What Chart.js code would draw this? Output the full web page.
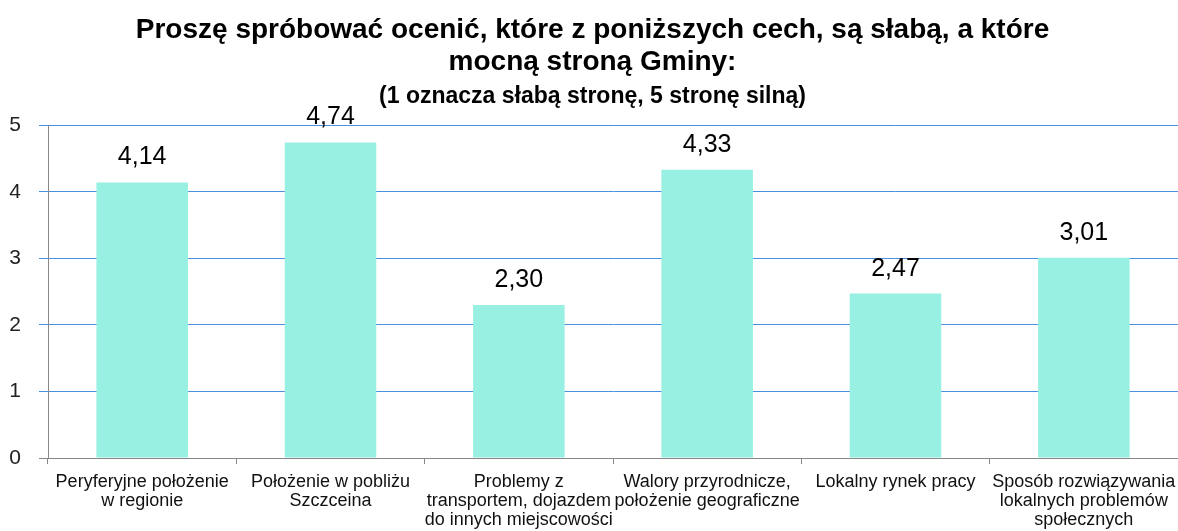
<!DOCTYPE html>
<html>
<head>
<meta charset="utf-8">
<script src="https://cdn.jsdelivr.net/npm/chart.js@4/dist/chart.umd.min.js"></script>
<style>
  html, body { margin: 0; padding: 0; background: #fff; }
  #wrap { width: 1178px; height: 531px; }
</style>
</head>
<body>
<div id="wrap"><canvas id="chart" width="1178" height="531"></canvas></div>
<script>
// dane z wykresu
const categories = [
    ['Peryferyjne położenie', 'w regionie'],
    ['Położenie w pobliżu', 'Szczceina'],
    ['Problemy z', 'transportem, dojazdem', 'do innych miejscowości'],
    ['Walory przyrodnicze,', 'położenie geograficzne'],
    ['Lokalny rynek pracy'],
    ['Sposób rozwiązywania', 'lokalnych problemów', 'społecznych']
];
const values = [4.14, 4.74, 2.30, 4.33, 2.47, 3.01];
const yTicks = [0, 1, 2, 3, 4, 5];

const titleLines = ['Proszę spróbować ocenić, które z poniższych cech, są słabą, a które', 'mocną stroną Gminy:'];
const subtitleText = '(1 oznacza słabą stronę, 5 stronę silną)';

const FONT = '"Liberation Sans", Arial, sans-serif';

// etykiety wartości nad słupkami
const valueLabels = {
    id: 'valueLabels',
    afterDatasetsDraw(chart) {
        const ctx = chart.ctx;
        const meta = chart.getDatasetMeta(0);
        ctx.save();
        ctx.font = '25px ' + FONT;
        ctx.fillStyle = '#000';
        ctx.textAlign = 'center';
        ctx.textBaseline = 'alphabetic';
        meta.data.forEach((bar, i) => {
            const txt = values[i].toFixed(2).replace('.', ',');
            ctx.fillText(txt, bar.x, bar.y - 18);
        });
        ctx.restore();
    }
};

const ctx = document.getElementById('chart').getContext('2d');
new Chart(ctx, {
    type: 'bar',
    data: {
        labels: categories,
        datasets: [{
            data: values,
            backgroundColor: '#98F0E2',
            borderWidth: 0,
            categoryPercentage: 1,
            barPercentage: 0.486
        }]
    },
    options: {
        responsive: false,
        animation: false,
        layout: { padding: { top: 0, right: -7, bottom: 0, left: 0 } },
        plugins: {
            legend: { display: false },
            tooltip: { enabled: false },
            title: {
                display: true,
                text: titleLines,
                color: '#000',
                font: { family: FONT, size: 28, weight: 'bold', lineHeight: 1.143 },
                padding: { top: 14, bottom: 0 }
            },
            subtitle: {
                display: true,
                text: subtitleText,
                color: '#000',
                font: { family: FONT, size: 23, weight: 'bold', lineHeight: 1.05 },
                padding: { top: 7, bottom: 16 }
            }
        },
        scales: {
            x: {
                grid: {
                    offset: true,
                    drawOnChartArea: false,
                    drawTicks: true,
                    tickLength: 6,
                    color: '#888'
                },
                border: { color: '#888', width: 1 },
                ticks: {
                    color: '#111',
                    font: { family: FONT, size: 18, lineHeight: 1.06 },
                    padding: 8,
                    maxRotation: 0,
                    autoSkip: false
                },
                afterFit(scale) {
                    scale.height = 73;
                    scale.paddingLeft = 0;
                    scale.paddingRight = 0;
                }
            },
            y: {
                min: 0,
                max: 5,
                afterBuildTicks(scale) { scale.ticks = yTicks.map(v => ({ value: v })); },
                grid: {
                    color: c => c.tick && c.tick.value === 0 ? '#888' : '#4A90E0',
                    tickLength: 9,
                    lineWidth: 1
                },
                border: { color: '#888', width: 1 },
                ticks: {
                    color: '#222',
                    font: { family: FONT, size: 21 },
                    padding: 18
                },
                afterFit(scale) { scale.width = 48; }
            }
        }
    },
    plugins: [valueLabels]
});
</script>
</body>
</html>
